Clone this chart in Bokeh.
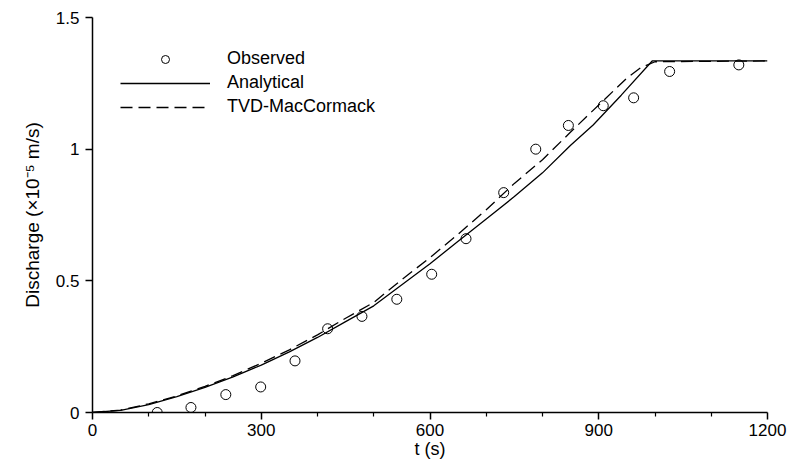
from bokeh.plotting import figure
from bokeh.models import FixedTicker, Legend, LegendItem
from bokeh.embed import file_html
from bokeh.resources import INLINE

# Observed data
obs_t = [115, 175, 237, 299, 360, 418, 479, 541, 603, 664, 731, 788, 846, 908, 962, 1026, 1149]
obs_q = [0.0, 0.019, 0.068, 0.097, 0.196, 0.318, 0.365, 0.43, 0.525, 0.66, 0.835, 1.0, 1.09, 1.165, 1.195, 1.295, 1.32]

# Analytical solution
ana_t = [0, 50, 100, 150, 200, 250, 300, 350, 400, 450, 500, 550, 600, 650, 700, 750, 800, 850, 890, 940, 995, 1200]
ana_q = [0.0, 0.008, 0.03, 0.06, 0.095, 0.135, 0.18, 0.23, 0.285, 0.345, 0.405, 0.485, 0.565, 0.65, 0.735, 0.82, 0.91, 1.015, 1.092, 1.205, 1.335, 1.335]

# TVD-MacCormack
tvd_t = [0, 50, 100, 150, 200, 250, 300, 350, 400, 450, 500, 550, 600, 650, 700, 750, 800, 850, 900, 950, 975, 1000, 1200]
tvd_q = [0.0, 0.009, 0.033, 0.063, 0.099, 0.14, 0.187, 0.238, 0.295, 0.358, 0.418, 0.505, 0.588, 0.677, 0.77, 0.87, 0.96, 1.065, 1.168, 1.27, 1.31, 1.332, 1.335]

x_ticks = [0, 300, 600, 900, 1200]
x_minor = [100, 200, 400, 500, 700, 800, 1000, 1100]
y_ticks = [0, 0.5, 1, 1.5]
y_labels = ["0", "0.5", "1", "1.5"]

FONT = "Liberation Sans"

p = figure(width=792, height=461, x_range=(0, 1200), y_range=(0, 1.5),
           output_backend="svg", toolbar_location=None,
           min_border_left=92, min_border_right=25, min_border_top=17, min_border_bottom=48)
p.outline_line_color = None
p.xgrid.visible = False
p.ygrid.visible = False
p.background_fill_color = "white"
p.border_fill_color = "white"

r_ana = p.line(ana_t, ana_q, line_color="black", line_width=1.3)
r_tvd = p.line(tvd_t, tvd_q, line_color="black", line_width=1.3, line_dash="12 6")
r_obs = p.scatter(obs_t, obs_q, marker="circle", size=10, fill_color=None,
                  line_color="black", line_width=1)

for ax in (p.xaxis[0], p.yaxis[0]):
    ax.axis_line_color = "black"
    ax.axis_line_width = 1.5
    ax.major_tick_line_width = 1.5
    ax.minor_tick_line_width = 1.2
    ax.major_tick_out = 7
    ax.major_tick_in = 0
    ax.minor_tick_out = 4
    ax.minor_tick_in = 0
    ax.major_label_text_font = FONT
    ax.major_label_text_font_size = "17px"
    ax.major_label_text_color = "black"
    ax.axis_label_text_font = FONT
    ax.axis_label_text_font_size = "18px"
    ax.axis_label_text_font_style = "normal"
    ax.axis_label_text_color = "black"

p.xaxis[0].ticker = FixedTicker(ticks=x_ticks, minor_ticks=x_minor)
p.xaxis[0].major_label_overrides = {t: str(t) for t in x_ticks}
p.xaxis[0].axis_label = "t (s)"
p.xaxis[0].major_label_standoff = 4
p.xaxis[0].axis_label_standoff = 0

p.yaxis[0].ticker = FixedTicker(ticks=y_ticks, minor_ticks=[])
p.yaxis[0].major_label_overrides = dict(zip(y_ticks, y_labels))
p.yaxis[0].axis_label = "Discharge (\u00d710\u207b\u2075 m/s)"
p.yaxis[0].axis_label_text_font_size = "19px"
p.yaxis[0].major_label_standoff = 6
p.yaxis[0].axis_label_standoff = 10

legend = Legend(items=[LegendItem(label="Observed", renderers=[r_obs]),
                       LegendItem(label="Analytical", renderers=[r_ana]),
                       LegendItem(label="TVD-MacCormack", renderers=[r_tvd])],
                location=(28, 295))
legend.glyph_width = 90
legend.glyph_height = 20
legend.label_height = 20
legend.spacing = 3
legend.padding = 0
legend.margin = 0
legend.label_standoff = 17
legend.border_line_color = None
legend.background_fill_alpha = 0
legend.label_text_font = FONT
legend.label_text_font_size = "18px"
legend.label_text_color = "black"
p.add_layout(legend)

open("out.html", "w").write(file_html(p, INLINE))
